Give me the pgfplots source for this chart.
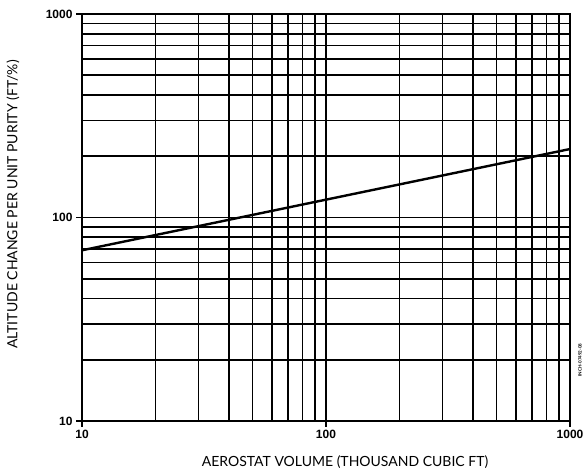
\documentclass[border=0pt]{standalone}
\usepackage{fontspec}
\setmainfont{Lato}
\newfontfamily\tickfont{Liberation Sans}
\usepackage{pgfplots}
\pgfplotsset{compat=1.18}
\begin{document}
\begin{tikzpicture}
\useasboundingbox (-82pt,-49pt) rectangle (504pt,421pt);
\begin{axis}[
  at={(0,0)}, anchor=south west,
  scale only axis, width=488pt, height=407pt,
  xmode=log, ymode=log,
  xmin=10, xmax=1000, ymin=10, ymax=1000,
  xtick={10,100,1000}, xticklabels={10,100,1000},
  ytick={10,100,1000}, yticklabels={10,100,1000},
  tick label style={font=\tickfont\fontsize{12}{12}\selectfont\bfseries},
  grid=both,
  major grid style={black, line width=1.6pt},
  minor grid style={black, line width=1.6pt},
  axis line style={black, line width=1.8pt},
  tick style={black, line width=1.2pt},
  major tick length=6pt, minor tick length=0pt,
  tick align=outside,
  xtick pos=bottom, ytick pos=left,
  xlabel={AEROSTAT VOLUME (THOUSAND CUBIC FT)},
  ylabel={ALTITUDE CHANGE PER UNIT PURITY (FT/\%)},
  label style={font=\fontsize{14}{14}\selectfont},
  xlabel style={at={(axis description cs:0.5,0)}, anchor=center, yshift=-41pt, xshift=19pt},
  ylabel style={at={(axis description cs:0,0.5)}, anchor=center, rotate=0, xshift=13pt, yshift=69pt},
]
\addplot[black, line width=2.4pt] coordinates {(10,69) (1000,217)};
\end{axis}
\node[rotate=90, font=\fontsize{4.5}{4.5}\selectfont\bfseries, inner sep=0pt] at (498pt,61pt) {INCH-07492-08};
\end{tikzpicture}
\end{document}
